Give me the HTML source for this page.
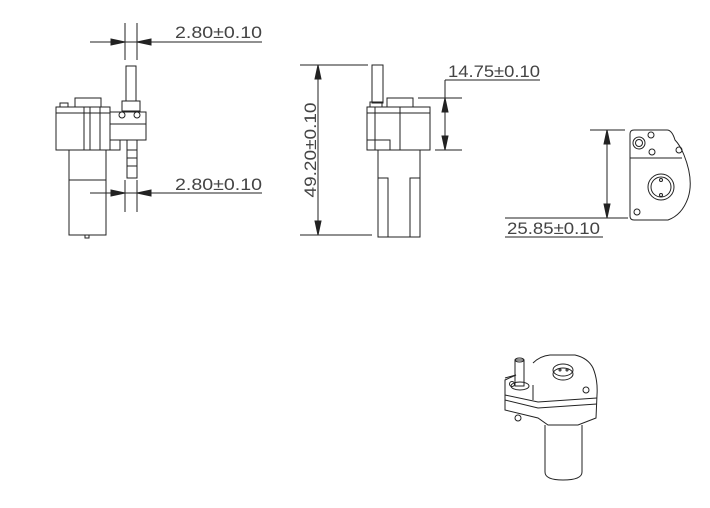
<!DOCTYPE html>
<html><head><meta charset="utf-8"><style>
html,body{margin:0;padding:0;background:#fff;}
svg{display:block;}
text{font-family:"Liberation Sans",sans-serif;font-size:17px;fill:#444;}
</style></head><body>
<svg width="710" height="508" viewBox="0 0 710 508" xmlns="http://www.w3.org/2000/svg" fill="none" stroke="#222" stroke-width="1">
<!-- View 1 -->
<line x1="90" y1="42" x2="262" y2="42"/>
<line x1="125" y1="23" x2="125" y2="60"/><line x1="137" y1="23" x2="137" y2="60"/>
<path d="M125 42 l-14 -3 v6 z M137 42 l14 -3 v6 z" fill="#222"/>
<text x="175" y="38" stroke="none" textLength="87" lengthAdjust="spacingAndGlyphs">2.80±0.10</text>
<line x1="90" y1="193" x2="262" y2="193"/>
<line x1="125" y1="180" x2="125" y2="212"/><line x1="137" y1="180" x2="137" y2="212"/>
<path d="M125 193 l-14 -3 v6 z M137 193 l14 -3 v6 z" fill="#222"/>
<text x="175" y="190" stroke="none" textLength="87" lengthAdjust="spacingAndGlyphs">2.80±0.10</text>
<rect x="126" y="66" width="10" height="35"/>
<rect x="122" y="101" width="18" height="10"/>
<rect x="56" y="107" width="54" height="43"/>
<line x1="56" y1="113" x2="110" y2="113"/>
<line x1="84" y1="107" x2="84" y2="150"/><line x1="90" y1="107" x2="90" y2="150"/><line x1="100" y1="107" x2="100" y2="150"/>
<rect x="75" y="98" width="26" height="9"/>
<rect x="60" y="103" width="8" height="4"/>
<rect x="110" y="112" width="36" height="28"/>
<line x1="110" y1="124" x2="146" y2="124"/>
<circle cx="122" cy="115" r="3"/><circle cx="137" cy="115" r="3"/>
<rect x="110" y="140" width="10" height="10"/>
<rect x="127" y="140" width="10" height="38"/>
<line x1="127" y1="150" x2="137" y2="150"/><line x1="127" y1="158" x2="137" y2="158"/><line x1="127" y1="166" x2="137" y2="166"/>
<rect x="69" y="150" width="37" height="85"/>
<line x1="69" y1="180" x2="106" y2="180"/>
<rect x="85" y="235" width="4" height="3"/>
<!-- View 2 -->
<line x1="300" y1="65" x2="368" y2="65"/><line x1="300" y1="235" x2="372" y2="235"/>
<line x1="318" y1="65" x2="318" y2="235"/>
<path d="M318 65 l-3 14 h6 z M318 235 l-3 -14 h6 z" fill="#222"/>
<text transform="translate(316 150) rotate(-90)" text-anchor="middle" stroke="none" textLength="95" lengthAdjust="spacingAndGlyphs">49.20±0.10</text>
<rect x="372" y="65" width="11" height="38"/>
<rect x="367" y="107" width="63" height="43"/>
<line x1="367" y1="113" x2="430" y2="113"/>
<line x1="375" y1="107" x2="375" y2="150"/><line x1="400" y1="107" x2="400" y2="150"/>
<rect x="367" y="140" width="23" height="10"/>
<rect x="387" y="98" width="26" height="9"/>
<rect x="370" y="102" width="12" height="5"/>
<rect x="378" y="150" width="42" height="87"/>
<rect x="378" y="178" width="10" height="59"/><rect x="410" y="178" width="10" height="59"/>
<line x1="418" y1="98" x2="462" y2="98"/><line x1="435" y1="150" x2="462" y2="150"/>
<line x1="445" y1="80" x2="445" y2="150"/><line x1="445" y1="80" x2="540" y2="80"/>
<path d="M445 98 l-3 14 h6 z M445 150 l-3 -14 h6 z" fill="#222"/>
<text x="448" y="77" stroke="none" textLength="92" lengthAdjust="spacingAndGlyphs">14.75±0.10</text>
<!-- View 3 -->
<line x1="590" y1="130" x2="625" y2="130"/><line x1="505" y1="218" x2="628" y2="218"/>
<line x1="607" y1="130" x2="607" y2="218"/>
<line x1="505" y1="237" x2="603" y2="237"/>
<path d="M607 130 l-3 14 h6 z M607 218 l-3 -14 h6 z" fill="#222"/>
<text x="507" y="234" stroke="none" textLength="93" lengthAdjust="spacingAndGlyphs">25.85±0.10</text>
<path d="M634 130 H667 Q672 130 675 140 Q680 145 684 155 Q694 180 688 198 Q682 215 668 220 H634 Q630 220 630 216 V134 Q630 130 634 130 Z"/>
<line x1="630" y1="158" x2="682" y2="158"/>
<circle cx="639" cy="143" r="6"/><circle cx="639" cy="143" r="3.5"/>
<circle cx="651" cy="135" r="3"/><circle cx="652" cy="152" r="3"/><circle cx="679" cy="150" r="3"/><circle cx="637" cy="212" r="3"/>
<circle cx="661" cy="187" r="13"/><circle cx="661" cy="187" r="10"/>
<circle cx="661" cy="180" r="1.5"/><circle cx="661" cy="195" r="1.5"/>
<!-- View 4 iso -->
<path d="M533 363 Q540 356 550 355 H575 Q588 358 593 368 Q598 380 597 395 L596 418 L578 425 H548 L538 418 L505 410 V380 L516 375"/>
<path d="M505 395 L538 402 L597 398"/>
<path d="M505 400 L538 408 L597 404"/>
<path d="M516 375 L505 378 M533 385 L533 400"/>
<rect x="515" y="360" width="9" height="26"/>
<ellipse cx="519.5" cy="360" rx="4.5" ry="2"/>
<ellipse cx="520" cy="386" rx="9" ry="4"/>
<ellipse cx="563" cy="370" rx="10" ry="6"/><ellipse cx="563" cy="374" rx="10" ry="6"/>
<circle cx="560" cy="370" r="1"/><circle cx="567" cy="370" r="1"/>
<circle cx="586" cy="390" r="3"/><circle cx="518" cy="418" r="3"/><circle cx="512" cy="384" r="2.5"/>
<path d="M545 425 V472 Q545 480 563 480 Q582 480 582 472 V425"/>
</svg>
</body></html>
